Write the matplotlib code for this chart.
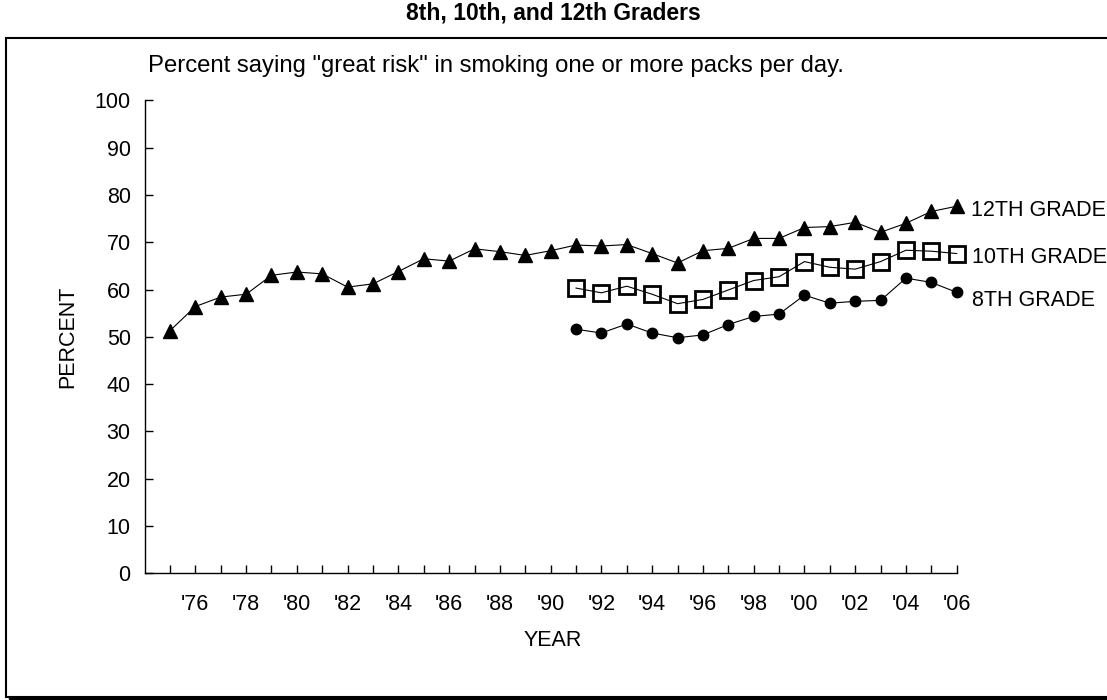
import matplotlib.pyplot as plt
from matplotlib.patches import Rectangle

plt.rcParams['font.family'] = ['Liberation Sans', 'DejaVu Sans']

# percent saying "great risk", smoking one or more packs per day
years_12 = list(range(1975, 2007))
grade_12 = [51.3, 56.4, 58.4, 59.0, 63.0, 63.7, 63.3, 60.5, 61.2, 63.8,
            66.5, 66.0, 68.6, 68.0, 67.2, 68.2, 69.4, 69.2, 69.5, 67.6,
            65.6, 68.2, 68.7, 70.8, 70.8, 73.1, 73.3, 74.2, 72.1, 74.0,
            76.5, 77.6]

years_lower = list(range(1991, 2007))
grade_10 = [60.3, 59.3, 60.7, 59.0, 57.0, 57.9, 59.9, 61.9, 62.7, 65.9,
            64.7, 64.3, 65.9, 68.3, 68.1, 67.6]
grade_8 = [51.6, 50.8, 52.7, 50.8, 49.8, 50.4, 52.6, 54.3, 54.8, 58.8,
           57.1, 57.5, 57.7, 62.4, 61.5, 59.4]

tick_years = list(range(1976, 2007, 2))
tick_labels = ["'%02d" % (y % 100) for y in tick_years]

W, H = 1107, 700
fs = 15.5
fig = plt.figure(figsize=(W / 100, H / 100), dpi=100)

# boxed panel with a drop shadow on the bottom/right edge (kept behind the axes)
x0, y0 = 6 / W, 1 - 697 / H
bw, bh = 1.1, (697 - 38) / H
fig.patches.append(Rectangle((x0 + 3 / W, y0 - 3 / H), bw, bh, transform=fig.transFigure,
                             facecolor='black', edgecolor='black', zorder=-2))
fig.patches.append(Rectangle((x0, y0), bw, bh, transform=fig.transFigure,
                             facecolor='white', edgecolor='black', linewidth=1.5, zorder=-1))

ax = fig.add_axes([144.6 / W, 1 - 573.3 / H, (956.7 - 144.6) / W, (573.3 - 100.3) / H])
ax.set_facecolor('none')

ax.plot(years_12, grade_12, color='black', lw=0.8, marker='^', ms=10.5,
        mfc='black', mec='black', clip_on=False)
# hollow squares, the connecting line shows through them
ax.plot(years_lower, grade_10, color='black', lw=0.8, marker='s', ms=11.2,
        mfc='none', mec='black', mew=2.0, clip_on=False)
ax.plot(years_lower, grade_8, color='black', lw=0.8, marker='o', ms=7.5,
        mfc='black', mec='black', clip_on=False)

ax.annotate('12TH GRADE', (years_12[-1], grade_12[-1]), xytext=(10, -3),
            textcoords='offset points', va='center', fontsize=fs)
ax.annotate('10TH GRADE', (years_lower[-1], grade_10[-1]), xytext=(11, -2.5),
            textcoords='offset points', va='center', fontsize=fs)
ax.annotate('8TH GRADE', (years_lower[-1], grade_8[-1]), xytext=(11, -6),
            textcoords='offset points', va='center', fontsize=fs)

ax.set_xlim(1974, 2006)
ax.set_ylim(0, 100)
ax.set_yticks(range(0, 101, 10))
ax.set_xticks(range(1975, 2007), minor=True)
ax.set_xticks(tick_years)
ax.set_xticklabels(tick_labels)

for side in ['top', 'right']:
    ax.spines[side].set_visible(False)
for side in ['left', 'bottom']:
    ax.spines[side].set_linewidth(1.0)

ax.tick_params(axis='y', direction='in', length=6, width=1, pad=10, labelsize=fs)
ax.tick_params(axis='x', which='both', direction='in', length=6, width=1, pad=15, labelsize=fs)
ax.tick_params(axis='x', which='minor', labelbottom=False)

ax.set_ylabel('PERCENT', fontsize=fs)
ax.yaxis.set_label_coords((68 - 144.6) / (956.7 - 144.6), 0.5)
ax.set_xlabel('YEAR', fontsize=fs)
ax.xaxis.set_label_coords((553 - 144.6) / (956.7 - 144.6), -(640 - 573.3) / (573.3 - 100.3))
ax.xaxis.label.set_va('center')
ax.yaxis.label.set_va('center')

fig.text(553 / W, 1 - 13 / H, '8th, 10th, and 12th Graders', ha='center', va='center',
         fontsize=16.5, fontweight='bold')
fig.text(148 / W, 1 - 66 / H, 'Percent saying "great risk" in smoking one or more packs per day.',
         ha='left', va='center', fontsize=17.2)

fig.savefig('out.png', dpi=100)
